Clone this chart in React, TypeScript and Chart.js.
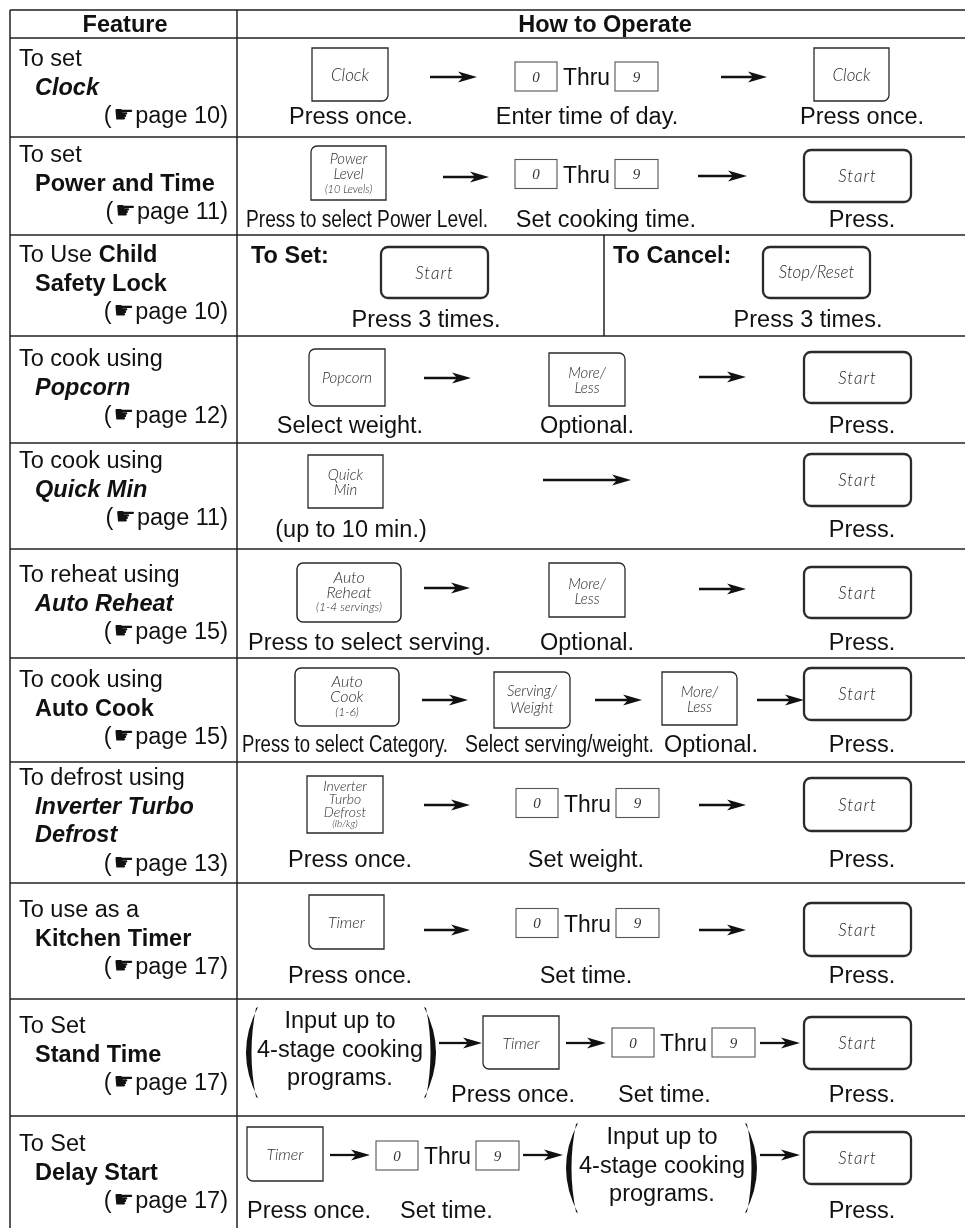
import React, { useEffect, useRef } from "react";
import { Chart, registerables } from "chart.js";

Chart.register(...registerables);

const W = 965;
const H = 1228;

// ---------- content ----------
const headerLabels = ["Feature", "How to Operate"];
const featurePrefixes = [
  "To set", "To set", "To Use", "To cook using", "To cook using", "To reheat using",
  "To cook using", "To defrost using", "To use as a", "To Set", "To Set",
];
const featureNames = [
  ["Clock"], ["Power and Time"], ["Child", "Safety Lock"], ["Popcorn"], ["Quick Min"],
  ["Auto Reheat"], ["Auto Cook"], ["Inverter Turbo", "Defrost"], ["Kitchen Timer"],
  ["Stand Time"], ["Delay Start"],
];
const featureItalic = [true, false, false, true, true, true, false, true, false, false, false];
const inlineNameRows = [2];
const pageRefs = ["10", "11", "10", "12", "11", "15", "15", "13", "17", "17", "17"];
const captionsByRow = [
  ["Press once.", "Enter time of day.", "Press once."],
  ["Press to select Power Level.", "Set cooking time.", "Press."],
  ["Press 3 times.", "Press 3 times."],
  ["Select weight.", "Optional.", "Press."],
  ["(up to 10 min.)", "Press."],
  ["Press to select serving.", "Optional.", "Press."],
  ["Press to select Category.", "Select serving/weight.", "Optional.", "Press."],
  ["Press once.", "Set weight.", "Press."],
  ["Press once.", "Set time.", "Press."],
  ["Press once.", "Set time.", "Press."],
  ["Press once.", "Set time.", "Press."],
];
const childModes = ["To Set:", "To Cancel:"];
const keyLabels: Record<string, string[]> = {
  clock: ["Clock"],
  power: ["Power", "Level", "(10 Levels)"],
  start: ["Start"],
  stop: ["Stop/Reset"],
  popcorn: ["Popcorn"],
  moreLess: ["More/", "Less"],
  quickMin: ["Quick", "Min"],
  autoReheat: ["Auto", "Reheat", "(1-4 servings)"],
  autoCook: ["Auto", "Cook", "(1-6)"],
  servingWeight: ["Serving/", "Weight"],
  inverter: ["Inverter", "Turbo", "Defrost", "(lb/kg)"],
  timer: ["Timer"],
};
const digitLabels = ["0", "9"];
const thruLabel = "Thru";
const programNote = ["Input up to", "4-stage cooking", "programs."];
const pointer = "\u261B";

// ---------- layout ----------
const rowEdges = [10, 38, 137, 235, 336, 443, 549, 658, 762, 883, 999, 1116];
const colEdges = [10, 237];
const childDivider = 604;
const featureBaselines = [66, 162, 262, 366, 468, 582, 687, 785, 917, 1033, 1151];
const captionBaselines = [124, 227, 327, 433, 537, 650, 752, 867, 983, 1102, 1218];
const LINE = 28.5;

const keyStyles: Record<string, { fs: number[]; dy: number[]; bw?: number; ls?: number }> = {
  clock: { fs: [17], dy: [6] },
  power: { fs: [15, 15, 11], dy: [-9, 6, 20] },
  start: { fs: [17], dy: [6], bw: 2.3, ls: 1 },
  stop: { fs: [17], dy: [5.5], bw: 2.3 },
  popcorn: { fs: [15], dy: [5.5] },
  moreLess: { fs: [15, 15], dy: [-1.5, 13.5] },
  quickMin: { fs: [15, 15], dy: [-1.5, 13.5] },
  autoReheat: { fs: [16, 16, 12], dy: [-9.5, 5.5, 18.5], bw: 1.5 },
  autoCook: { fs: [16, 16, 12], dy: [-10, 5, 19], bw: 1.5 },
  servingWeight: { fs: [15, 15], dy: [-4, 13] },
  inverter: { fs: [14, 14, 14, 10], dy: [-13.5, -0.5, 12.5, 22.5] },
  timer: { fs: [16], dy: [6] },
};

type Item =
  | { t: "key"; id: string; b: number[]; r: number[] }
  | { t: "arrow"; x1: number; x2: number; y: number }
  | { t: "digits"; x: number; y: number }
  | { t: "note"; x: number; y: number; pl: number[]; pr: number[] }
  | { t: "mode"; i: number; x: number; y: number };
type Cap = { x: number; a: "left" | "center"; max?: number };

const R4 = [7, 7, 7, 7];
const rowLayouts: { items: Item[]; caps: Cap[] }[] = [
  {
    items: [
      { t: "key", id: "clock", b: [312, 48, 388, 101], r: [0, 0, 6, 0] },
      { t: "arrow", x1: 430, x2: 477, y: 77 },
      { t: "digits", x: 515, y: 76.5 },
      { t: "arrow", x1: 721, x2: 767, y: 77 },
      { t: "key", id: "clock", b: [814, 48, 889, 101], r: [0, 0, 6, 0] },
    ],
    caps: [{ x: 351, a: "center" }, { x: 587, a: "center" }, { x: 862, a: "center" }],
  },
  {
    items: [
      { t: "key", id: "power", b: [311, 146, 386, 200], r: [6, 0, 0, 0] },
      { t: "arrow", x1: 443, x2: 489, y: 177 },
      { t: "digits", x: 515, y: 174 },
      { t: "arrow", x1: 698, x2: 747, y: 176 },
      { t: "key", id: "start", b: [804, 150, 911, 202], r: R4 },
    ],
    caps: [{ x: 246, a: "left", max: 242 }, { x: 606, a: "center" }, { x: 862, a: "center" }],
  },
  {
    items: [
      { t: "mode", i: 0, x: 251, y: 263 },
      { t: "key", id: "start", b: [381, 247, 488, 298], r: R4 },
      { t: "mode", i: 1, x: 613, y: 263 },
      { t: "key", id: "stop", b: [763, 247, 870, 298], r: R4 },
    ],
    caps: [{ x: 426, a: "center" }, { x: 808, a: "center" }],
  },
  {
    items: [
      { t: "key", id: "popcorn", b: [309, 349, 385, 406], r: [6, 0, 0, 6] },
      { t: "arrow", x1: 424, x2: 471, y: 378 },
      { t: "key", id: "moreLess", b: [549, 353, 625, 406], r: [0, 6, 0, 0] },
      { t: "arrow", x1: 699, x2: 746, y: 377 },
      { t: "key", id: "start", b: [804, 352, 911, 403], r: R4 },
    ],
    caps: [{ x: 350, a: "center" }, { x: 587, a: "center" }, { x: 862, a: "center" }],
  },
  {
    items: [
      { t: "key", id: "quickMin", b: [308, 455, 383, 508], r: [0, 0, 0, 0] },
      { t: "arrow", x1: 543, x2: 631, y: 480 },
      { t: "key", id: "start", b: [804, 454, 911, 506], r: R4 },
    ],
    caps: [{ x: 351, a: "center" }, { x: 862, a: "center" }],
  },
  {
    items: [
      { t: "key", id: "autoReheat", b: [297, 563, 401, 622], r: [6, 6, 6, 6] },
      { t: "arrow", x1: 424, x2: 470, y: 588 },
      { t: "key", id: "moreLess", b: [549, 563, 625, 617], r: [0, 6, 0, 0] },
      { t: "arrow", x1: 699, x2: 746, y: 589 },
      { t: "key", id: "start", b: [804, 567, 911, 618], r: R4 },
    ],
    caps: [{ x: 248, a: "left" }, { x: 587, a: "center" }, { x: 862, a: "center" }],
  },
  {
    items: [
      { t: "key", id: "autoCook", b: [295, 668, 399, 726], r: [6, 6, 6, 6] },
      { t: "arrow", x1: 422, x2: 468, y: 700 },
      { t: "key", id: "servingWeight", b: [494, 672, 570, 728], r: [0, 6, 6, 0] },
      { t: "arrow", x1: 595, x2: 642, y: 700 },
      { t: "key", id: "moreLess", b: [662, 672, 737, 725], r: [0, 6, 0, 0] },
      { t: "arrow", x1: 757, x2: 804, y: 700 },
      { t: "key", id: "start", b: [804, 668, 911, 720], r: R4 },
    ],
    caps: [
      { x: 242, a: "left", max: 206 },
      { x: 465, a: "left", max: 189 },
      { x: 711, a: "center" },
      { x: 862, a: "center" },
    ],
  },
  {
    items: [
      { t: "key", id: "inverter", b: [307, 776, 383, 833], r: [0, 0, 0, 0] },
      { t: "arrow", x1: 424, x2: 470, y: 805 },
      { t: "digits", x: 516, y: 803 },
      { t: "arrow", x1: 699, x2: 746, y: 805 },
      { t: "key", id: "start", b: [804, 778, 911, 831], r: R4 },
    ],
    caps: [{ x: 350, a: "center" }, { x: 586, a: "center" }, { x: 862, a: "center" }],
  },
  {
    items: [
      { t: "key", id: "timer", b: [309, 895, 384, 949], r: [0, 0, 0, 6] },
      { t: "arrow", x1: 424, x2: 470, y: 930 },
      { t: "digits", x: 516, y: 923 },
      { t: "arrow", x1: 699, x2: 746, y: 930 },
      { t: "key", id: "start", b: [804, 903, 911, 956], r: R4 },
    ],
    caps: [{ x: 350, a: "center" }, { x: 586, a: "center" }, { x: 862, a: "center" }],
  },
  {
    items: [
      { t: "note", x: 340, y: 1028, pl: [246, 258, 1007, 1098], pr: [424, 436, 1007, 1098] },
      { t: "arrow", x1: 439, x2: 482, y: 1043 },
      { t: "key", id: "timer", b: [483, 1016, 559, 1069], r: [0, 0, 0, 6] },
      { t: "arrow", x1: 566, x2: 606, y: 1043 },
      { t: "digits", x: 612, y: 1042.5 },
      { t: "arrow", x1: 760, x2: 800, y: 1043 },
      { t: "key", id: "start", b: [804, 1017, 911, 1069], r: R4 },
    ],
    caps: [{ x: 451, a: "left" }, { x: 618, a: "left" }, { x: 862, a: "center" }],
  },
  {
    items: [
      { t: "key", id: "timer", b: [247, 1127, 323, 1181], r: [0, 0, 0, 6] },
      { t: "arrow", x1: 330, x2: 370, y: 1155 },
      { t: "digits", x: 376, y: 1155.5 },
      { t: "arrow", x1: 523, x2: 563, y: 1155 },
      { t: "note", x: 662, y: 1144, pl: [566, 578, 1123, 1213], pr: [745, 757, 1123, 1213] },
      { t: "arrow", x1: 760, x2: 800, y: 1155 },
      { t: "key", id: "start", b: [804, 1132, 911, 1184], r: R4 },
    ],
    caps: [{ x: 247, a: "left" }, { x: 400, a: "left" }, { x: 862, a: "center" }],
  },
];

const SANS = '"Liberation Sans", Arial, Helvetica, sans-serif';
const MAIN = `23.5px ${SANS}`;
const BOLD = `bold 23.5px ${SANS}`;
const KEYFONT = "Lato, 'Open Sans', sans-serif";
const INK = "#111";

const tablePlugin = {
  id: "featureTable",
  beforeDraw(chart: any) {
    const ctx = chart.ctx as CanvasRenderingContext2D;
    ctx.save();
    ctx.fillStyle = "#fff";
    ctx.fillRect(0, 0, chart.width, chart.height);
    ctx.restore();
  },
  afterDraw(chart: any) {
    const ctx = chart.ctx as CanvasRenderingContext2D;
    const xs = chart.scales.x;
    const ys = chart.scales.y;
    const X = (v: number) => xs.getPixelForValue(v);
    const Y = (v: number) => ys.getPixelForValue(v);
    ctx.save();
    ctx.strokeStyle = INK;
    ctx.fillStyle = INK;

    // grid lines
    rowEdges.forEach((e, i) => {
      ctx.beginPath();
      ctx.lineWidth = i === 0 ? 2.2 : 1.5;
      ctx.strokeStyle = i === 0 ? "#555" : "#222";
      ctx.moveTo(X(colEdges[0]), Y(e));
      ctx.lineTo(X(W), Y(e));
      ctx.stroke();
    });
    ctx.strokeStyle = "#222";
    colEdges.forEach((c) => {
      ctx.beginPath();
      ctx.lineWidth = 1.5;
      ctx.moveTo(X(c), Y(rowEdges[0]));
      ctx.lineTo(X(c), Y(H));
      ctx.stroke();
    });
    ctx.beginPath();
    ctx.moveTo(X(childDivider), Y(rowEdges[3]));
    ctx.lineTo(X(childDivider), Y(rowEdges[4]));
    ctx.stroke();

    // header
    ctx.font = BOLD;
    ctx.textAlign = "center";
    ctx.fillText(headerLabels[0], X(125), Y(32));
    ctx.fillText(headerLabels[1], X(605), Y(32));

    // feature column
    featurePrefixes.forEach((pre, i) => {
      const y0 = featureBaselines[i];
      ctx.textAlign = "left";
      ctx.font = MAIN;
      ctx.fillText(pre, X(19), Y(y0));
      const nameFont = `${featureItalic[i] ? "italic " : ""}bold 23.5px ${SANS}`;
      let names = featureNames[i];
      let line = 1;
      if (inlineNameRows.includes(i)) {
        const w = ctx.measureText(pre + " ").width;
        ctx.font = nameFont;
        ctx.fillText(names[0], X(19) + w, Y(y0));
        names = names.slice(1);
      }
      ctx.font = nameFont;
      names.forEach((n) => {
        ctx.fillText(n, X(35), Y(y0 + LINE * line));
        line++;
      });
      // page reference
      const py = Y(y0 + LINE * line);
      ctx.font = MAIN;
      const tail = `page ${pageRefs[i]})`;
      const wt = ctx.measureText(tail).width;
      const xr = X(228);
      ctx.fillText(tail, xr - wt, py);
      ctx.font = `23px "DejaVu Sans", sans-serif`;
      const wh = ctx.measureText(pointer).width;
      ctx.fillText(pointer, xr - wt - 1 - wh, py - 1);
      ctx.font = MAIN;
      const wp = ctx.measureText("(").width;
      ctx.fillText("(", xr - wt - 1 - wh - 2 - wp, py);
    });

    // operations
    rowLayouts.forEach((row, ri) => {
      row.items.forEach((it) => {
        if (it.t === "key") drawKey(ctx, X, Y, it.id, it.b, it.r);
        else if (it.t === "arrow") drawArrow(ctx, X(it.x1), X(it.x2), Y(it.y));
        else if (it.t === "digits") drawDigits(ctx, X, Y, it.x, it.y);
        else if (it.t === "note") {
          ctx.font = MAIN;
          ctx.textAlign = "center";
          ctx.fillStyle = INK;
          programNote.forEach((s, k) => ctx.fillText(s, X(it.x), Y(it.y + LINE * k)));
          drawParen(ctx, X(it.pl[0]), X(it.pl[1]), Y(it.pl[2]), Y(it.pl[3]), true);
          drawParen(ctx, X(it.pr[0]), X(it.pr[1]), Y(it.pr[2]), Y(it.pr[3]), false);
        } else if (it.t === "mode") {
          ctx.font = BOLD;
          ctx.textAlign = "left";
          ctx.fillStyle = INK;
          ctx.fillText(childModes[it.i], X(it.x), Y(it.y));
        }
      });
      ctx.font = MAIN;
      ctx.fillStyle = INK;
      row.caps.forEach((c, k) => {
        ctx.textAlign = c.a;
        const s = captionsByRow[ri][k];
        if (c.max) {
          const w = ctx.measureText(s).width;
          ctx.fillText(s, X(c.x), Y(captionBaselines[ri]), Math.min(w, c.max));
        } else ctx.fillText(s, X(c.x), Y(captionBaselines[ri]));
      });
    });
    ctx.restore();
  },
};

function drawKey(ctx: CanvasRenderingContext2D, X: any, Y: any, id: string, b: number[], r: number[]) {
  const st = keyStyles[id];
  const x1 = X(b[0]), y1 = Y(b[1]), x2 = X(b[2]), y2 = Y(b[3]);
  ctx.save();
  ctx.lineWidth = st.bw ?? 1.3;
  ctx.strokeStyle = "#2a2a2a";
  ctx.beginPath();
  (ctx as any).roundRect(x1, y1, x2 - x1, y2 - y1, r);
  ctx.stroke();
  const cx = (x1 + x2) / 2;
  const cy = (y1 + y2) / 2;
  ctx.fillStyle = "#2b2b2b";
  ctx.textAlign = "center";
  (ctx as any).letterSpacing = `${st.ls ?? 0}px`;
  keyLabels[id].forEach((s, k) => {
    ctx.font = `italic 300 ${st.fs[k]}px ${KEYFONT}`;
    ctx.fillText(s, cx, cy + st.dy[k], x2 - x1 - 6);
  });
  ctx.restore();
}

function drawArrow(ctx: CanvasRenderingContext2D, x1: number, x2: number, y: number) {
  ctx.save();
  ctx.strokeStyle = INK;
  ctx.fillStyle = INK;
  ctx.lineWidth = 2.3;
  ctx.beginPath();
  ctx.moveTo(x1, y);
  ctx.lineTo(x2 - 12, y);
  ctx.stroke();
  ctx.beginPath();
  ctx.moveTo(x2, y);
  ctx.lineTo(x2 - 19, y - 5.5);
  ctx.lineTo(x2 - 14, y);
  ctx.lineTo(x2 - 19, y + 5.5);
  ctx.closePath();
  ctx.fill();
  ctx.restore();
}

function drawDigits(ctx: CanvasRenderingContext2D, X: any, Y: any, x: number, y: number) {
  ctx.save();
  ctx.strokeStyle = "#555";
  ctx.lineWidth = 1.1;
  const boxes = [
    [x, x + 42],
    [x + 100, x + 143],
  ];
  boxes.forEach((bx, k) => {
    ctx.strokeRect(X(bx[0]), Y(y - 14.5), X(bx[1]) - X(bx[0]), Y(y + 14.5) - Y(y - 14.5));
    ctx.font = `italic 15px "Liberation Serif", "DejaVu Serif", serif`;
    ctx.fillStyle = "#333";
    ctx.textAlign = "center";
    ctx.fillText(digitLabels[k], X((bx[0] + bx[1]) / 2), Y(y + 5));
  });
  ctx.font = MAIN;
  ctx.fillStyle = INK;
  ctx.textAlign = "center";
  ctx.fillText(thruLabel, X(x + 71.5), Y(y + 8.5), 47);
  ctx.restore();
}

function drawParen(ctx: CanvasRenderingContext2D, xa: number, xb: number, y1: number, y2: number, left: boolean) {
  const ym = (y1 + y2) / 2;
  const th = 5.5;
  ctx.save();
  ctx.fillStyle = INK;
  ctx.beginPath();
  if (left) {
    const cOuter = 2 * xa - xb;
    const cInner = 2 * (xa + th) - (xb - 2);
    ctx.moveTo(xb, y1);
    ctx.quadraticCurveTo(cOuter, ym, xb, y2);
    ctx.lineTo(xb - 2, y2 - 1);
    ctx.quadraticCurveTo(cInner, ym, xb - 2, y1 + 1);
  } else {
    const cOuter = 2 * xb - xa;
    const cInner = 2 * (xb - th) - (xa + 2);
    ctx.moveTo(xa, y1);
    ctx.quadraticCurveTo(cOuter, ym, xa, y2);
    ctx.lineTo(xa + 2, y2 - 1);
    ctx.quadraticCurveTo(cInner, ym, xa + 2, y1 + 1);
  }
  ctx.closePath();
  ctx.fill();
  ctx.restore();
}

export default function App() {
  const ref = useRef<HTMLCanvasElement>(null);
  useEffect(() => {
    const canvas = ref.current;
    if (!canvas) return;
    const chart = new Chart(canvas, {
      type: "scatter",
      data: { datasets: [{ data: [], showLine: false, pointRadius: 0 }] },
      options: {
        animation: false,
        responsive: false,
        maintainAspectRatio: false,
        devicePixelRatio: 1,
        events: [],
        layout: { padding: 0 },
        plugins: { legend: { display: false }, tooltip: { enabled: false }, title: { display: false } },
        scales: {
          x: { type: "linear", min: 0, max: W, display: false },
          y: { type: "linear", min: 0, max: H, reverse: true, display: false },
        },
      },
      plugins: [tablePlugin as any],
    });
    return () => chart.destroy();
  }, []);
  return (
    <canvas
      ref={ref}
      width={W}
      height={H}
      style={{ position: "absolute", left: 0, top: 0, width: W, height: H, display: "block" }}
    />
  );
}
